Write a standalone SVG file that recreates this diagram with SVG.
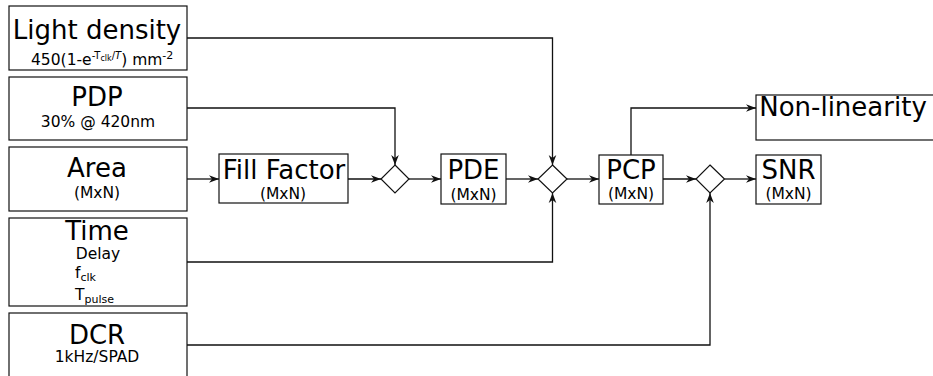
<svg xmlns="http://www.w3.org/2000/svg" width="933" height="376" viewBox="0 0 933 376">
  <style>
    .box { fill: #ffffff; stroke: #111111; stroke-width: 1.2; }
    .dia { fill: #ffffff; stroke: #111111; stroke-width: 1.2; }
    .wire { fill: none; stroke: #111111; stroke-width: 1.3; }
    .big { font-family: "DejaVu Sans", sans-serif; font-size: 26px; fill: #000000; text-anchor: middle; }
    .sub { font-family: "DejaVu Sans", sans-serif; font-size: 15.5px; fill: #000000; text-anchor: middle; }
    .subl { font-family: "DejaVu Sans", sans-serif; font-size: 15.5px; fill: #000000; }
  </style>
  <defs>
    <marker id="arrow" markerUnits="userSpaceOnUse" markerWidth="12" markerHeight="10" viewBox="-11 -5 12 10" refX="0" refY="0" orient="auto">
      <path d="M0,0 L-10,-3.8 L-7,0 L-10,3.8 Z" fill="#111111"/>
    </marker>
  </defs>

  <!-- inputs -->
  <g id="light-density">
    <rect class="box" x="9" y="6" width="178" height="64"/>
    <text class="big" x="97" y="39">Light density</text>
    <text class="subl" x="31" y="65">450(1-e<tspan dy="-6" font-size="10">-T</tspan><tspan dy="2" font-size="8">clk</tspan><tspan dy="-2" font-size="10">/</tspan><tspan font-size="10" font-style="italic">T</tspan><tspan dy="6">) mm</tspan><tspan dy="-6" font-size="11">-2</tspan></text>
  </g>
  <g id="pdp">
    <rect class="box" x="9" y="77" width="178" height="63"/>
    <text class="big" x="97" y="106">PDP</text>
    <text class="sub" x="98" y="127">30% @ 420nm</text>
  </g>
  <g id="area">
    <rect class="box" x="9" y="147" width="178" height="64"/>
    <text class="big" x="97" y="177">Area</text>
    <text class="sub" x="97" y="198">(MxN)</text>
  </g>
  <g id="time">
    <rect class="box" x="9" y="218" width="178" height="88"/>
    <text class="big" x="97" y="240">Time</text>
    <text class="sub" x="98" y="259">Delay</text>
    <text class="subl" x="75" y="278">f<tspan dy="3" font-size="11">clk</tspan></text>
    <text class="subl" x="75" y="300">T<tspan dy="3" font-size="11">pulse</tspan></text>
  </g>
  <g id="dcr">
    <rect class="box" x="9" y="313" width="178" height="70"/>
    <text class="big" x="97" y="344">DCR</text>
    <text class="sub" x="97" y="362">1kHz/SPAD</text>
  </g>

  <!-- processing blocks -->
  <g id="fill-factor">
    <rect class="box" x="219" y="154" width="129" height="49"/>
    <text class="big" x="284" y="179">Fill Factor</text>
    <text class="sub" x="283" y="199">(MxN)</text>
  </g>
  <g id="pde">
    <rect class="box" x="441" y="154" width="65" height="50"/>
    <text class="big" x="473.5" y="179">PDE</text>
    <text class="sub" x="473.5" y="200">(MxN)</text>
  </g>
  <g id="pcp">
    <rect class="box" x="599" y="155" width="64" height="49"/>
    <text class="big" x="631" y="179">PCP</text>
    <text class="sub" x="631" y="199">(MxN)</text>
  </g>
  <g id="snr">
    <rect class="box" x="756" y="155" width="65" height="49"/>
    <text class="big" x="788.5" y="179">SNR</text>
    <text class="sub" x="788.5" y="199">(MxN)</text>
  </g>
  <g id="non-linearity">
    <rect class="box" x="756" y="95" width="180" height="45"/>
    <text class="big" x="843" y="116">Non-linearity</text>
  </g>

  <!-- combining junctions -->
  <g id="junction-1"><path class="dia" d="M395,165 L409,179 L395,193 L381,179 Z"/></g>
  <g id="junction-2"><path class="dia" d="M552.5,165 L567,179 L552.5,193 L538,179 Z"/></g>
  <g id="junction-3"><path class="dia" d="M710,165 L724.5,179 L710,193 L696,179 Z"/></g>

  <!-- connectors -->
  <g id="connectors">
    <path class="wire" d="M187,179 H219" marker-end="url(#arrow)"/>
    <path class="wire" d="M348,179 H381" marker-end="url(#arrow)"/>
    <path class="wire" d="M187,108 H395 V165" marker-end="url(#arrow)"/>
    <path class="wire" d="M409,179 H441" marker-end="url(#arrow)"/>
    <path class="wire" d="M506,179 H538" marker-end="url(#arrow)"/>
    <path class="wire" d="M187,38 H552.5 V165" marker-end="url(#arrow)"/>
    <path class="wire" d="M187,262 H552.5 V193" marker-end="url(#arrow)"/>
    <path class="wire" d="M567,179 H599" marker-end="url(#arrow)"/>
    <path class="wire" d="M663,179 H696" marker-end="url(#arrow)"/>
    <path class="wire" d="M631,155 V108 H756" marker-end="url(#arrow)"/>
    <path class="wire" d="M724.5,179 H756" marker-end="url(#arrow)"/>
    <path class="wire" d="M187,345 H710 V193" marker-end="url(#arrow)"/>
  </g>
</svg>
